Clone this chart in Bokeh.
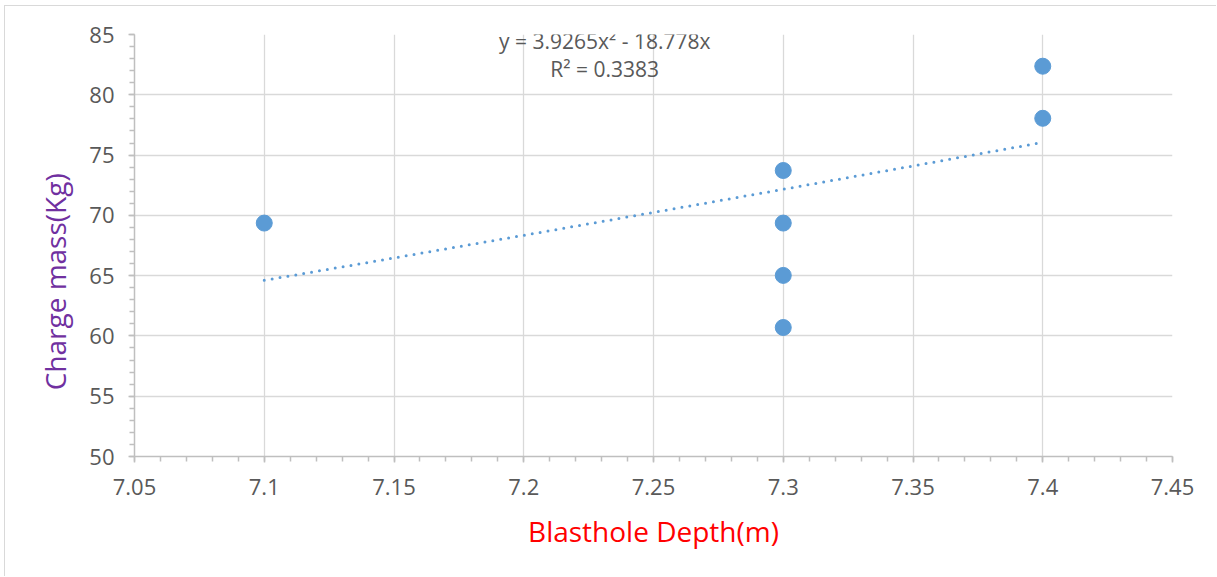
import numpy as np
from bokeh.plotting import figure
from bokeh.models import FixedTicker, Label, Range1d
from bokeh.embed import file_html
from bokeh.resources import INLINE

# ---- data ----
depth = [7.1, 7.3, 7.3, 7.3, 7.3, 7.4, 7.4]
charge = [69.36, 73.72, 69.36, 65.02, 60.7, 82.37, 78.05]
trend_a = 3.9265
trend_b = -18.778
equation_text = "y = 3.9265x\u00b2 - 18.778x"
r2_text = "R\u00b2 = 0.3383"
x_ticks = [7.05, 7.1, 7.15, 7.2, 7.25, 7.3, 7.35, 7.4, 7.45]
x_tick_labels = ["7.05", "7.1", "7.15", "7.2", "7.25", "7.3", "7.35", "7.4", "7.45"]
y_ticks = [50, 55, 60, 65, 70, 75, 80, 85]
y_tick_labels = ["50", "55", "60", "65", "70", "75", "80", "85"]

FONT = "Open Sans"
TICK_COLOR = "#595959"
BLUE = "#5B9BD5"

p = figure(width=1212, height=571, output_backend="svg", toolbar_location=None,
           x_range=Range1d(7.05, 7.45), y_range=Range1d(50, 85),
           min_border_left=129, min_border_right=45, min_border_top=28, min_border_bottom=121,
           margin=(5, 0, 0, 4))
p.styles = {"border-top": "1px solid #d9d9d9", "border-left": "1px solid #d9d9d9"}
p.outline_line_color = None
p.background_fill_color = "white"
p.border_fill_color = "white"

# ticks
xminor = [round(x_ticks[0] + i * 0.01, 2) for i in range(41)]
yminor = list(range(50, 86))
p.xaxis.ticker = FixedTicker(ticks=x_ticks, minor_ticks=xminor)
p.yaxis.ticker = FixedTicker(ticks=y_ticks, minor_ticks=yminor)
p.xaxis.major_label_overrides = {t: l for t, l in zip(x_ticks, x_tick_labels)}
p.yaxis.major_label_overrides = {t: l for t, l in zip(y_ticks, y_tick_labels)}

for ax in (p.xaxis, p.yaxis):
    ax.axis_line_color = "#bfbfbf"
    ax.axis_line_width = 1.5
    ax.major_tick_line_color = "#bfbfbf"
    ax.minor_tick_line_color = "#bfbfbf"
    ax.major_tick_line_width = 1.5
    ax.minor_tick_line_width = 1.5
    ax.major_tick_in = 0
    ax.minor_tick_in = 0
    ax.major_tick_out = 6
    ax.minor_tick_out = 5
    ax.major_label_text_font = FONT
    ax.major_label_text_font_size = "22px"
    ax.major_label_text_color = TICK_COLOR

p.yaxis.major_label_standoff = 14
p.xaxis.major_label_standoff = 16

p.xaxis.axis_label = "Blasthole Depth(m)"
p.xaxis.axis_label_text_font = FONT
p.xaxis.axis_label_text_font_size = "28px"
p.xaxis.axis_label_text_font_style = "normal"
p.xaxis.axis_label_text_color = "#FF0000"
p.xaxis.axis_label_standoff = 14

p.yaxis.axis_label = "Charge mass(Kg)" + "\u00a0" * 10
p.yaxis.axis_label_text_font = FONT
p.yaxis.axis_label_text_font_size = "28px"
p.yaxis.axis_label_text_font_style = "normal"
p.yaxis.axis_label_text_color = "#7030A0"
p.yaxis.axis_label_standoff = 12

p.xgrid.ticker = FixedTicker(ticks=x_ticks)
p.ygrid.ticker = FixedTicker(ticks=y_ticks)
p.grid.grid_line_color = "#d9d9d9"
p.grid.grid_line_width = 1.3

# trendline from displayed equation
tx = np.linspace(min(depth), max(depth), 100)
ty = trend_a * tx ** 2 + trend_b * tx
p.line(tx, ty, line_color=BLUE, line_width=3, line_dash="0 8", line_cap="round")

p.scatter(depth, charge, size=16, fill_color=BLUE, line_color=BLUE, line_width=1)

# equation text
p.add_layout(Label(x=7.2312, y=84.42, text=equation_text, text_font=FONT,
                   text_font_size="21px", text_color=TICK_COLOR,
                   text_align="center", text_baseline="middle"))
p.add_layout(Label(x=7.2312, y=82.1, text=r2_text, text_font=FONT,
                   text_font_size="21px", text_color=TICK_COLOR,
                   text_align="center", text_baseline="middle"))

open("out.html", "w").write(file_html(p, INLINE))
